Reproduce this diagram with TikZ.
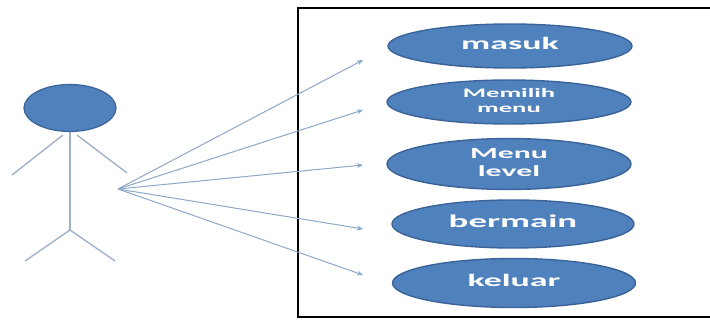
\documentclass[tikz,border=0pt]{standalone}
\usepackage{fontspec}
\setmainfont{Carlito}
\usetikzlibrary{shapes.geometric,arrows.meta}
\definecolor{ucfill}{HTML}{4F81BD}
\definecolor{ucborder}{HTML}{3A6397}
\definecolor{actorline}{HTML}{9AAFC8}
\definecolor{assoc}{HTML}{8EA8C8}
% wide, bold label text for the use cases
\newcommand{\uclabel}[3]{\scalebox{2.05}[1]{\fontsize{#1}{#2}\selectfont\bfseries
  \begin{tabular}{@{}c@{}}#3\end{tabular}}}
\tikzset{
  usecase/.style={ellipse, draw=ucborder, fill=ucfill, line width=1.4pt,
    minimum width=244pt, minimum height=44pt, inner sep=0pt,
    text=white, align=center},
  limb/.style={draw=actorline, line width=1.3pt},
  assocline/.style={draw=assoc, line width=1pt, -{Stealth[length=6pt,width=5pt]}},
  sysbox/.style={draw=black, line width=1.6pt}
}
\begin{document}
\begin{tikzpicture}[x=1pt, y=-1pt]
\useasboundingbox (0,0) rectangle (710,320);
\fill[white] (0,0) rectangle (710,320);

% system boundary (open on the right)
\draw[sysbox] (712,8) -- (298,8) -- (298,317) -- (712,317);

% actor
\node[ellipse, draw=ucborder, fill=ucfill, line width=1.2pt,
      minimum width=92pt, minimum height=47pt, inner sep=0pt] (head) at (70,108) {};
\draw[limb] (head.south) -- (70,230);
\draw[limb] (63,135) -- (12,175);
\draw[limb] (77,135) -- (127,173);
\draw[limb] (70,230) -- (25,261);
\draw[limb] (70,230) -- (115,261);
\coordinate (hand) at (118,189);

% use cases
\node[usecase] (uc1) at (510,46) {\uclabel{17.5}{17}{masuk}};
\node[usecase] (uc2) at (509,102) {\uclabel{13}{15}{Memilih\\menu}};
\node[usecase] (uc3) at (509,164) {\uclabel{15.5}{18}{Menu\\level}};
\node[usecase, minimum width=242pt, minimum height=48pt] (uc4) at (513,224) {\uclabel{18}{18}{bermain}};
\node[usecase, minimum width=243pt, minimum height=49pt] (uc5) at (514,283) {\uclabel{17.5}{17.5}{keluar}};

% arrow ends just left of each use case
\coordinate (t1) at (363,60);
\coordinate (t2) at (363,110);
\coordinate (t3) at (363,165);
\coordinate (t4) at (363,229);
\coordinate (t5) at (363,275);

\foreach \t in {t1,t2,t3,t4,t5}
  \draw[assocline] (hand) -- (\t);
\end{tikzpicture}
\end{document}
